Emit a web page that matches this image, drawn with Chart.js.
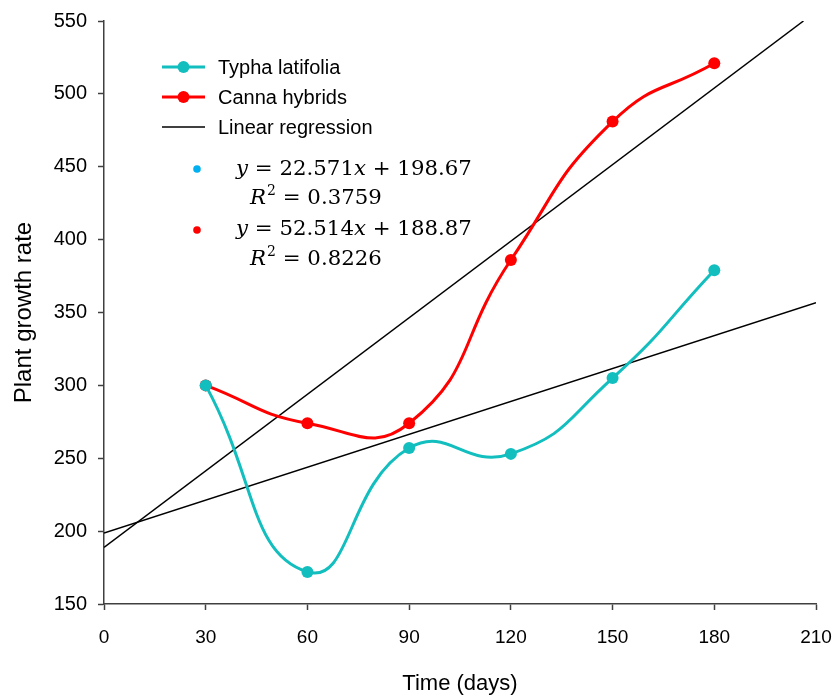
<!DOCTYPE html>
<html>
<head>
<meta charset="utf-8">
<script src="https://cdn.jsdelivr.net/npm/chart.js@4.4.1/dist/chart.umd.min.js"></script>
<style>
  html, body { margin: 0; padding: 0; background: #ffffff; }
  #wrap { position: relative; width: 836px; height: 700px; }
</style>
</head>
<body>
<div id="wrap"><canvas id="c" width="836" height="700"></canvas></div>
<script>
// ---- data ----
const days = [30, 60, 90, 120, 150, 180];
const typhaValues = [300, 172, 257, 253, 305, 379];
const cannaValues = [300, 274, 274, 386, 481, 521];
// regression line end points (read from the printed equations / picture)
const typhaTrendX = [0, 210];
const typhaTrendY = [198.67, 356.67];
const cannaTrendX = [0, 206.3];
const cannaTrendY = [188.87, 550];
const xTicks = [0, 30, 60, 90, 120, 150, 180, 210];
const yTicks = [150, 200, 250, 300, 350, 400, 450, 500, 550];
const seriesNames = ['Typha latifolia', 'Canna hybrids', 'Linear regression'];
const eqTypha = [['y', true], [' = 22.571', false], ['x', true], [' + 198.67', false]];
const r2Typha = '0.3759';
const eqCanna = [['y', true], [' = 52.514', false], ['x', true], [' + 188.87', false]];
const r2Canna = '0.8226';

const TEAL = '#12BEBE';
const RED = '#FF0000';
const AXIS = '#404040';

const toPts = (xs, ys) => xs.map((x, i) => ({ x: x, y: ys[i] }));

const legendPlugin = {
  id: 'customLegend',
  afterDraw(chart) {
    const ctx = chart.ctx;
    ctx.save();
    ctx.textBaseline = 'middle';
    ctx.textAlign = 'left';
    ctx.font = '20px "Liberation Sans", Arial, sans-serif';
    const items = [
      { label: seriesNames[0], color: TEAL, w: 3, marker: true, y: 67 },
      { label: seriesNames[1], color: RED, w: 3, marker: true, y: 97 },
      { label: seriesNames[2], color: '#000000', w: 1.5, marker: false, y: 127 }
    ];
    items.forEach(it => {
      ctx.strokeStyle = it.color;
      ctx.lineWidth = it.w;
      ctx.beginPath();
      ctx.moveTo(162, it.y);
      ctx.lineTo(205, it.y);
      ctx.stroke();
      if (it.marker) {
        ctx.fillStyle = it.color;
        ctx.beginPath();
        ctx.arc(183.5, it.y, 6, 0, Math.PI * 2);
        ctx.fill();
      }
      ctx.fillStyle = '#000000';
      ctx.fillText(it.label, 218, it.y + 1);
    });

    // equation dots
    ctx.fillStyle = '#00B0F0';
    ctx.beginPath(); ctx.arc(197, 169, 3.8, 0, Math.PI * 2); ctx.fill();
    ctx.fillStyle = RED;
    ctx.beginPath(); ctx.arc(197, 230, 3.8, 0, Math.PI * 2); ctx.fill();

    const FS = 21.3;
    const fontN = FS + 'px "DejaVu Serif", serif';
    const fontI = 'italic ' + FS + 'px "DejaVu Serif", serif';
    function rich(parts, x, y) {
      ctx.fillStyle = '#000000';
      parts.forEach(p => {
        ctx.font = p[1] ? fontI : fontN;
        ctx.fillText(p[0], x, y);
        x += ctx.measureText(p[0]).width;
      });
    }
    function r2(val, x, y) {
      ctx.fillStyle = '#000000';
      ctx.font = fontI;
      ctx.fillText('R', x, y);
      x += ctx.measureText('R').width + 1;
      ctx.font = '14px "DejaVu Serif", serif';
      ctx.fillText('2', x, y - 7);
      x += ctx.measureText('2').width;
      ctx.font = fontN;
      ctx.fillText(' = ' + val, x, y);
    }
    rich(eqTypha, 236, 169);
    r2(r2Typha, 250, 198);
    rich(eqCanna, 236, 229);
    r2(r2Canna, 250, 259);
    ctx.restore();
  }
};

new Chart(document.getElementById('c'), {
  type: 'line',
  data: {
    datasets: [
      {
        label: seriesNames[0],
        data: toPts(days, typhaValues),
        borderColor: TEAL, backgroundColor: TEAL,
        borderWidth: 3, pointRadius: 6, pointHoverRadius: 6,
        pointBorderWidth: 0, tension: 0.5, fill: false
      },
      {
        label: seriesNames[1],
        data: toPts(days, cannaValues),
        borderColor: RED, backgroundColor: RED,
        borderWidth: 3, pointRadius: 6, pointHoverRadius: 6,
        pointBorderWidth: 0, tension: 0.5, fill: false
      },
      {
        label: seriesNames[2],
        data: toPts(typhaTrendX, typhaTrendY),
        borderColor: '#000000', borderWidth: 1.5, pointRadius: 0, tension: 0, fill: false
      },
      {
        label: seriesNames[2] + ' ',
        data: toPts(cannaTrendX, cannaTrendY),
        borderColor: '#000000', borderWidth: 1.5, pointRadius: 0, tension: 0, fill: false
      }
    ]
  },
  options: {
    responsive: false,
    animation: false,
    events: [],
    layout: { padding: { left: 0, right: 20, top: 21, bottom: 0 } },
    plugins: { legend: { display: false }, tooltip: { enabled: false } },
    scales: {
      x: {
        type: 'linear', min: 0, max: 210,
        afterBuildTicks: s => { s.ticks = xTicks.map(v => ({ value: v })); },
        afterFit: s => { s.height = 96; s.paddingLeft = 0; s.paddingRight = 0; },
        ticks: {
          font: { family: '"Liberation Sans", Arial, sans-serif', size: 19 },
          color: '#000000', padding: 16, maxRotation: 0, autoSkip: false
        },
        grid: { display: true, drawOnChartArea: false, drawTicks: true, tickLength: 6, tickColor: AXIS, tickWidth: 1.5 },
        border: { display: true, color: AXIS, width: 1.5 },
        title: {
          display: true, text: 'Time (days)', color: '#000000',
          font: { family: '"Liberation Sans", Arial, sans-serif', size: 22 },
          padding: { top: 0, bottom: 3 }
        }
      },
      y: {
        type: 'linear', min: 150, max: 550,
        afterBuildTicks: s => { s.ticks = yTicks.map(v => ({ value: v })); },
        afterFit: s => { s.width = 104; s.paddingTop = 0; s.paddingBottom = 0; },
        ticks: {
          font: { family: '"Liberation Sans", Arial, sans-serif', size: 20 },
          color: '#000000', padding: 11, autoSkip: false
        },
        grid: { display: true, drawOnChartArea: false, drawTicks: true, tickLength: 6, tickColor: AXIS, tickWidth: 1.5 },
        border: { display: true, color: AXIS, width: 1.5 },
        title: {
          display: true, text: 'Plant growth rate', color: '#000000',
          font: { family: '"Liberation Sans", Arial, sans-serif', size: 24 },
          padding: { top: 10, bottom: 0 }
        }
      }
    }
  },
  plugins: [legendPlugin]
});
</script>
</body>
</html>
